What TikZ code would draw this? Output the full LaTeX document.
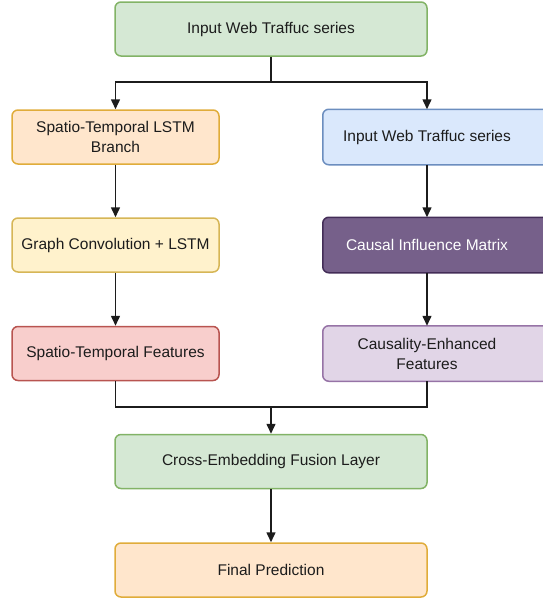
\documentclass[tikz,border=0pt]{standalone}
\usepackage{fontspec}
\setmainfont{Liberation Sans}
\usetikzlibrary{arrows.meta,backgrounds}
\definecolor{grnfill}{HTML}{D5E8D4}\definecolor{grnline}{HTML}{82B366}
\definecolor{orgfill}{HTML}{FFE6CC}\definecolor{orgline}{HTML}{E0AC3A}
\definecolor{bluefill}{HTML}{DAE8FC}\definecolor{blueline}{HTML}{6C8EBF}
\definecolor{ylwfill}{HTML}{FFF2CC}\definecolor{ylwline}{HTML}{D6B656}
\definecolor{redfill}{HTML}{F8CECC}\definecolor{redline}{HTML}{B85450}
\definecolor{pplfill}{HTML}{76608A}\definecolor{pplline}{HTML}{432D57}
\definecolor{lilfill}{HTML}{E1D5E7}\definecolor{lilline}{HTML}{9673A6}
\definecolor{txtgray}{HTML}{1C1C1C}

\begin{document}
\begin{tikzpicture}[x=1pt,y=-1pt,>={Triangle[length=10pt,width=9pt]},every node/.style={font=\fontsize{15.5}{20}\selectfont,text=txtgray,align=center},box/.style={rounded corners=6pt,line width=1.5pt,minimum height=54pt},wide/.style={box,minimum width=312pt},half/.style={box,minimum width=207pt},link/.style={line width=1.5pt,txtgray}]
\useasboundingbox (0,0) rectangle (543,598);\clip (0,0) rectangle (543,598);
% top and bottom of the flow
\node[wide,draw=grnline,fill=grnfill] (src) at (271,29) {Input Web Traffuc series};
\node[wide,draw=grnline,fill=grnfill] (fus) at (271,461.5) {Cross-Embedding Fusion Layer};
\node[wide,draw=orgline,fill=orgfill] (fin) at (271,570) {Final Prediction};
% left branch
\node[half,draw=orgline,fill=orgfill] (stl) at (115.5,137) {Spatio-Temporal LSTM\\Branch};
\node[half,draw=ylwline,fill=ylwfill] (gcl) at (115.5,245) {Graph Convolution + LSTM};
\node[half,draw=redline,fill=redfill] (stf) at (115.5,353.5) {Spatio-Temporal Features};
% right branch (boxes run past the right edge)
\node[half] (in2) at (427,137) {Input Web Traffuc series};
\node[half,text=white] (cim) at (427,245) {Causal Influence Matrix};
\node[half] (cef) at (427,353.5) {Causality-Enhanced\\Features};
\begin{scope}[on background layer]
\foreach \n/\c in {in2/blue,cim/ppl,cef/lil} \draw[box,draw=\c line,fill=\c fill] (\n.south west) rectangle ([xshift=40pt]\n.north east);
\end{scope}
% connectors
\coordinate (fork) at (271,82);\coordinate (join) at (271,407);
\draw[link] (src) -- (fork);\draw[link,->] (fork) -| (stl.north);\draw[link,->] (fork) -| (in2.north);
\draw[link,->] (stl) -- (gcl);\draw[link,->] (gcl) -- (stf);
\draw[link,->] (in2) -- (cim);\draw[link,->] (cim) -- (cef);
\draw[link] (stf.south) |- (join) -| (cef.south);
\draw[link,->] (join) -- (fus);\draw[link,->] (fus) -- (fin);
\end{tikzpicture}
\end{document}
